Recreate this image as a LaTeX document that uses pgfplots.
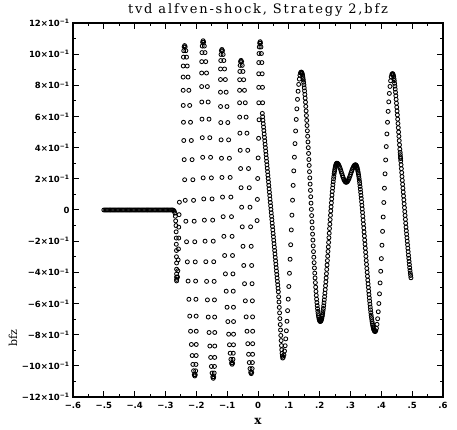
\documentclass[border=0pt]{standalone}
\usepackage{fontspec}
\setmainfont{DejaVu Serif}
\newfontfamily\tickfont{DejaVu Sans}
\newfontfamily\titlefont[LetterSpace=14]{DejaVu Serif}
\usepackage{pgfplots}
\pgfplotsset{compat=1.18}
\begin{document}
\begin{tikzpicture}[x=1pt,y=1pt]
\path[use as bounding box] (-73,-33) rectangle (384,397);
\begin{axis}[
  at={(0,0)}, anchor=south west,
  scale only axis, width=370pt, height=374pt,
  xmin=-0.6, xmax=0.6, ymin=-1.2, ymax=1.2,
  xtick={-0.6,-0.5,-0.4,-0.3,-0.2,-0.1,0,0.1,0.2,0.3,0.4,0.5,0.6},
  xticklabels={−.6,−.5,−.4,−.3,−.2,−.1,0,.1,.2,.3,.4,.5,.6},
  minor xtick={-0.55,-0.45,-0.35,-0.25,-0.15,-0.05,0.05,0.15,0.25,0.35,0.45,0.55},
  ytick={-1.2,-1.0,-0.8,-0.6,-0.4,-0.2,0,0.2,0.4,0.6,0.8,1.0,1.2},
  yticklabels={−12×10\textsuperscript{−1},−10×10\textsuperscript{−1},−8×10\textsuperscript{−1},−6×10\textsuperscript{−1},−4×10\textsuperscript{−1},−2×10\textsuperscript{−1},0,2×10\textsuperscript{−1},4×10\textsuperscript{−1},6×10\textsuperscript{−1},8×10\textsuperscript{−1},10×10\textsuperscript{−1},12×10\textsuperscript{−1}},
  minor ytick={-1.1,-0.9,-0.7,-0.5,-0.3,-0.1,0.1,0.3,0.5,0.7,0.9,1.1},
  tick align=inside, major tick length=6pt, minor tick length=3pt,
  axis line style={line width=1.2pt},
  every tick/.style={line width=1pt, black},
  tick label style={font=\tickfont\bfseries\fontsize{8.5}{10}\selectfont},
  xticklabel style={yshift=-1.5pt},
  scaled ticks=false,
]
% flat state left of the shock
\addplot[only marks, mark=o, mark size=2pt, mark options={line width=0.85pt, black}] coordinates {
(-0.500,0)(-0.496,0)(-0.492,0)(-0.488,0)(-0.484,0)(-0.480,0)(-0.476,0)(-0.472,0)(-0.468,0)(-0.464,0)
(-0.460,0)(-0.456,0)(-0.452,0)(-0.448,0)(-0.444,0)(-0.440,0)(-0.436,0)(-0.432,0)(-0.428,0)(-0.424,0)
(-0.420,0)(-0.416,0)(-0.412,0)(-0.408,0)(-0.404,0)(-0.400,0)(-0.396,0)(-0.392,0)(-0.388,0)(-0.384,0)
(-0.380,0)(-0.376,0)(-0.372,0)(-0.368,0)(-0.364,0)(-0.360,0)(-0.356,0)(-0.352,0)(-0.348,0)(-0.344,0)
(-0.340,0)(-0.336,0)(-0.332,0)(-0.328,0)(-0.324,0)(-0.320,0)(-0.316,0)(-0.312,0)(-0.308,0)(-0.304,0)
(-0.300,0)(-0.296,0)(-0.292,0)(-0.288,0)(-0.284,0)(-0.280,0)
(-0.277,0)(-0.274,-0.002)(-0.2715,-0.008)(-0.2695,-0.02)(-0.268,-0.04)(-0.267,-0.07)(-0.266,-0.10)
(-0.2655,-0.14)(-0.265,-0.18)(-0.265,-0.22)(-0.2645,-0.26)(-0.2645,-0.30)(-0.264,-0.34)(-0.264,-0.38)
(-0.264,-0.41)(-0.264,-0.43)(-0.264,-0.445)(-0.264,-0.455)
(-0.255,0.05)(-0.256,-0.03)(-0.257,-0.11)(-0.257,-0.18)(-0.258,-0.25)(-0.259,-0.32)(-0.260,-0.39)(-0.261,-0.43)
};
% oscillating region
\addplot[only marks, mark=o, mark size=2pt, mark options={line width=0.85pt, black}] coordinates {
(-0.2380,1.055)
(-0.2396,1.047)(-0.2362,1.047)(-0.2409,1.022)(-0.2341,1.022)(-0.2418,0.981)(-0.2318,0.981)
(-0.2425,0.924)(-0.2295,0.924)(-0.2427,0.853)(-0.2269,0.853)(-0.2427,0.768)(-0.2243,0.768)
(-0.2424,0.671)(-0.2216,0.671)(-0.2417,0.563)(-0.2189,0.563)(-0.2407,0.446)(-0.2163,0.446)
(-0.2394,0.323)(-0.2138,0.323)(-0.2379,0.194)(-0.2113,0.194)(-0.2360,0.062)(-0.2090,0.062)
(-0.2340,-0.072)(-0.2070,-0.072)(-0.2317,-0.204)(-0.2051,-0.204)(-0.2292,-0.333)(-0.2036,-0.333)
(-0.2267,-0.456)(-0.2023,-0.456)(-0.2241,-0.573)(-0.2013,-0.573)(-0.2214,-0.681)(-0.2006,-0.681)
(-0.2187,-0.778)(-0.2003,-0.778)(-0.2161,-0.863)(-0.2003,-0.863)(-0.2135,-0.934)(-0.2005,-0.934)
(-0.2112,-0.991)(-0.2012,-0.991)(-0.2089,-1.032)(-0.2021,-1.032)(-0.2068,-1.057)(-0.2034,-1.057)
(-0.2050,-1.065)
(-0.1780,1.086)
(-0.1796,1.077)(-0.1762,1.077)(-0.1809,1.052)(-0.1741,1.052)(-0.1818,1.010)(-0.1718,1.010)
(-0.1825,0.952)(-0.1695,0.952)(-0.1827,0.879)(-0.1669,0.879)(-0.1827,0.792)(-0.1643,0.792)
(-0.1824,0.693)(-0.1616,0.693)(-0.1817,0.583)(-0.1589,0.583)(-0.1807,0.464)(-0.1563,0.464)
(-0.1794,0.338)(-0.1538,0.338)(-0.1779,0.206)(-0.1513,0.206)(-0.1760,0.071)(-0.1490,0.071)
(-0.1740,-0.065)(-0.1470,-0.065)(-0.1717,-0.200)(-0.1451,-0.200)(-0.1692,-0.332)(-0.1436,-0.332)
(-0.1667,-0.458)(-0.1423,-0.458)(-0.1641,-0.577)(-0.1413,-0.577)(-0.1614,-0.687)(-0.1406,-0.687)
(-0.1587,-0.786)(-0.1403,-0.786)(-0.1561,-0.873)(-0.1403,-0.873)(-0.1535,-0.946)(-0.1405,-0.946)
(-0.1512,-1.004)(-0.1412,-1.004)(-0.1489,-1.046)(-0.1421,-1.046)(-0.1468,-1.071)(-0.1434,-1.071)
(-0.1450,-1.080)
(-0.1170,1.030)
(-0.1186,1.022)(-0.1152,1.022)(-0.1199,0.998)(-0.1131,0.998)(-0.1208,0.959)(-0.1108,0.959)
(-0.1215,0.905)(-0.1085,0.905)(-0.1217,0.837)(-0.1059,0.837)(-0.1217,0.756)(-0.1033,0.756)
(-0.1214,0.664)(-0.1006,0.664)(-0.1207,0.561)(-0.0979,0.561)(-0.1197,0.450)(-0.0953,0.450)
(-0.1184,0.332)(-0.0928,0.332)(-0.1169,0.209)(-0.0903,0.209)(-0.1150,0.083)(-0.0880,0.083)
(-0.1130,-0.043)(-0.0860,-0.043)(-0.1107,-0.169)(-0.0841,-0.169)(-0.1082,-0.292)(-0.0826,-0.292)
(-0.1057,-0.410)(-0.0813,-0.410)(-0.1031,-0.521)(-0.0803,-0.521)(-0.1004,-0.624)(-0.0796,-0.624)
(-0.0977,-0.716)(-0.0793,-0.716)(-0.0951,-0.797)(-0.0793,-0.797)(-0.0925,-0.865)(-0.0795,-0.865)
(-0.0902,-0.919)(-0.0802,-0.919)(-0.0879,-0.958)(-0.0811,-0.958)(-0.0858,-0.982)(-0.0824,-0.982)
(-0.0840,-0.990)
(-0.0550,0.960)
(-0.0566,0.952)(-0.0532,0.952)(-0.0579,0.928)(-0.0511,0.928)(-0.0588,0.889)(-0.0488,0.889)
(-0.0595,0.836)(-0.0465,0.836)(-0.0597,0.768)(-0.0439,0.768)(-0.0597,0.688)(-0.0413,0.688)
(-0.0594,0.596)(-0.0386,0.596)(-0.0587,0.493)(-0.0359,0.493)(-0.0577,0.383)(-0.0333,0.383)
(-0.0564,0.266)(-0.0308,0.266)(-0.0549,0.143)(-0.0283,0.143)(-0.0530,0.018)(-0.0260,0.018)
(-0.0510,-0.108)(-0.0240,-0.108)(-0.0487,-0.233)(-0.0221,-0.233)(-0.0462,-0.356)(-0.0206,-0.356)
(-0.0437,-0.473)(-0.0193,-0.473)(-0.0411,-0.583)(-0.0183,-0.583)(-0.0384,-0.686)(-0.0176,-0.686)
(-0.0357,-0.778)(-0.0173,-0.778)(-0.0331,-0.858)(-0.0173,-0.858)(-0.0305,-0.926)(-0.0175,-0.926)
(-0.0282,-0.979)(-0.0182,-0.979)(-0.0259,-1.018)(-0.0191,-1.018)(-0.0238,-1.042)(-0.0204,-1.042)
(-0.0220,-1.050)
(0.0070,1.080)
(0.0054,1.071)(0.0080,1.071)(0.0041,1.046)(0.0095,1.046)(0.0032,1.004)(0.0110,1.004)
(0.0025,0.946)(0.0125,0.946)(0.0023,0.874)(0.0135,0.874)(0.0023,0.787)(0.0145,0.787)
(0.0026,0.688)(0.0150,0.688)(0.0033,0.579)
(0.0020,0.460)(0.0005,0.334)(-0.0010,0.202)(-0.0020,0.068)(-0.0030,-0.068)
};
% smooth region right of x=0
\addplot[only marks, mark=o, mark size=2pt, mark options={line width=0.85pt, black}] coordinates {
(0.014,0.620)(0.016,0.576)(0.018,0.532)(0.020,0.488)(0.022,0.444)(0.024,0.400)(0.026,0.356)
(0.028,0.312)(0.030,0.268)(0.032,0.224)(0.034,0.180)(0.036,0.136)(0.038,0.092)(0.040,0.048)
(0.042,0.004)(0.044,-0.040)(0.046,-0.084)(0.048,-0.128)(0.050,-0.172)(0.052,-0.216)(0.054,-0.260)
(0.056,-0.304)(0.058,-0.348)(0.060,-0.392)(0.062,-0.436)(0.064,-0.480)(0.066,-0.525)(0.068,-0.590)
(0.070,-0.660)(0.072,-0.735)(0.074,-0.805)(0.076,-0.870)(0.078,-0.920)(0.080,-0.950)
(0.082,-0.945)(0.084,-0.930)(0.086,-0.905)(0.088,-0.871)(0.090,-0.827)(0.092,-0.775)(0.094,-0.714)
(0.096,-0.646)(0.098,-0.572)(0.100,-0.491)(0.102,-0.406)(0.104,-0.316)(0.106,-0.223)(0.108,-0.128)
(0.110,-0.033)(0.112,0.063)(0.114,0.158)(0.116,0.251)(0.118,0.339)(0.120,0.426)(0.122,0.507)
(0.124,0.581)(0.126,0.649)(0.128,0.710)(0.130,0.762)(0.132,0.806)(0.134,0.840)(0.136,0.865)
(0.138,0.880)(0.140,0.885)
(0.142,0.881)(0.144,0.869)(0.146,0.848)(0.148,0.820)(0.150,0.784)(0.152,0.742)(0.154,0.692)
(0.156,0.636)(0.158,0.575)(0.160,0.508)(0.162,0.437)(0.164,0.363)(0.166,0.286)(0.168,0.206)
(0.170,0.126)(0.172,0.044)(0.174,-0.036)(0.176,-0.116)(0.178,-0.193)(0.180,-0.267)(0.182,-0.338)
(0.184,-0.405)(0.186,-0.466)(0.188,-0.522)(0.190,-0.572)(0.192,-0.614)(0.194,-0.650)(0.196,-0.678)
(0.198,-0.699)(0.200,-0.711)(0.202,-0.715)
(0.204,-0.712)(0.206,-0.701)(0.208,-0.684)(0.210,-0.661)(0.212,-0.632)(0.214,-0.596)(0.216,-0.556)
(0.218,-0.511)(0.220,-0.461)(0.222,-0.409)(0.224,-0.353)(0.226,-0.296)(0.228,-0.237)(0.230,-0.178)
(0.232,-0.119)(0.234,-0.062)(0.236,-0.006)(0.238,0.046)(0.240,0.096)(0.242,0.141)(0.244,0.181)
(0.246,0.216)(0.248,0.246)(0.250,0.269)(0.252,0.286)(0.254,0.297)(0.256,0.300)
(0.258,0.299)(0.260,0.295)(0.262,0.288)(0.264,0.280)(0.266,0.270)(0.268,0.258)(0.270,0.245)
(0.272,0.233)(0.274,0.220)(0.276,0.209)(0.278,0.198)(0.280,0.190)(0.282,0.183)(0.284,0.179)
(0.286,0.178)
(0.288,0.179)(0.290,0.183)(0.292,0.189)(0.294,0.197)(0.296,0.206)(0.298,0.217)(0.300,0.228)
(0.302,0.240)(0.304,0.251)(0.306,0.262)(0.308,0.271)(0.310,0.279)(0.312,0.285)(0.314,0.289)
(0.316,0.290)
(0.318,0.287)(0.320,0.280)(0.322,0.267)(0.324,0.249)(0.326,0.227)(0.328,0.200)(0.330,0.169)
(0.332,0.133)(0.334,0.094)(0.336,0.052)(0.338,0.007)(0.340,-0.040)(0.342,-0.090)(0.344,-0.141)
(0.346,-0.193)(0.348,-0.245)(0.350,-0.297)(0.352,-0.349)(0.354,-0.400)(0.356,-0.450)(0.358,-0.497)
(0.360,-0.542)(0.362,-0.584)(0.364,-0.623)(0.366,-0.659)(0.368,-0.690)(0.370,-0.717)(0.372,-0.739)
(0.374,-0.757)(0.376,-0.770)(0.378,-0.777)(0.380,-0.780)
(0.382,-0.775)(0.384,-0.759)(0.386,-0.734)(0.388,-0.698)(0.390,-0.653)(0.392,-0.600)(0.394,-0.538)
(0.396,-0.468)(0.398,-0.393)(0.400,-0.312)(0.402,-0.226)(0.404,-0.137)(0.406,-0.045)(0.408,0.048)
(0.410,0.140)(0.412,0.232)(0.414,0.321)(0.416,0.407)(0.418,0.488)(0.420,0.563)(0.422,0.633)
(0.424,0.694)(0.426,0.748)(0.428,0.793)(0.430,0.829)(0.432,0.854)(0.434,0.870)(0.436,0.875)
(0.438,0.870)(0.440,0.855)(0.442,0.830)(0.444,0.795)(0.446,0.755)(0.448,0.710)(0.450,0.660)
(0.452,0.610)(0.454,0.555)(0.456,0.500)(0.458,0.445)(0.460,0.390)(0.461,0.370)(0.4615,0.355)
(0.462,0.340)(0.4625,0.330)(0.463,0.315)(0.464,0.290)(0.465,0.265)(0.466,0.240)(0.468,0.190)
(0.470,0.140)(0.472,0.090)(0.474,0.040)(0.476,-0.010)(0.478,-0.060)(0.480,-0.110)(0.482,-0.155)
(0.484,-0.200)(0.486,-0.245)(0.488,-0.290)(0.490,-0.330)(0.492,-0.370)(0.494,-0.405)(0.496,-0.435)
};
% finer-spaced points on the descending/rising branches
\addplot[only marks, mark=o, mark size=2pt, mark options={line width=0.85pt, black}] coordinates {
(0.015,0.598)(0.017,0.554)(0.019,0.510)(0.021,0.466)(0.023,0.422)(0.025,0.378)(0.027,0.334)
(0.029,0.290)(0.031,0.246)(0.033,0.202)(0.035,0.158)(0.037,0.114)(0.039,0.070)(0.041,0.026)
(0.043,-0.018)(0.045,-0.062)(0.047,-0.106)(0.049,-0.150)(0.051,-0.194)(0.053,-0.238)(0.055,-0.282)
(0.057,-0.326)(0.059,-0.370)(0.061,-0.414)(0.063,-0.458)(0.065,-0.502)(0.067,-0.557)(0.069,-0.625)
(0.071,-0.697)(0.073,-0.770)(0.075,-0.838)(0.077,-0.897)(0.079,-0.937)
(0.141,0.884)(0.143,0.876)(0.145,0.859)(0.147,0.835)(0.149,0.803)(0.151,0.764)(0.153,0.718)
(0.155,0.665)(0.157,0.606)(0.159,0.542)(0.161,0.473)(0.163,0.400)(0.165,0.324)(0.167,0.246)
(0.169,0.166)(0.171,0.085)(0.173,0.004)(0.175,-0.076)(0.177,-0.155)(0.179,-0.230)(0.181,-0.303)
(0.183,-0.372)(0.185,-0.436)(0.187,-0.495)(0.189,-0.548)(0.191,-0.594)(0.193,-0.633)(0.195,-0.665)
(0.197,-0.689)(0.199,-0.706)(0.201,-0.714)
(0.203,-0.714)(0.205,-0.707)(0.207,-0.694)(0.209,-0.674)(0.211,-0.647)(0.213,-0.615)(0.215,-0.577)
(0.217,-0.534)(0.219,-0.486)(0.221,-0.436)(0.223,-0.381)(0.225,-0.325)(0.227,-0.266)(0.229,-0.208)
(0.231,-0.149)(0.233,-0.091)(0.235,-0.034)(0.237,0.020)(0.239,0.071)(0.241,0.119)(0.243,0.162)
(0.245,0.200)(0.247,0.232)(0.249,0.259)(0.251,0.279)(0.253,0.292)(0.255,0.299)
(0.317,0.289)(0.319,0.284)(0.321,0.274)(0.323,0.259)(0.325,0.239)(0.327,0.214)(0.329,0.185)
(0.331,0.151)(0.333,0.114)(0.335,0.074)(0.337,0.030)(0.339,-0.016)(0.341,-0.065)(0.343,-0.115)
(0.345,-0.167)(0.347,-0.219)(0.349,-0.271)(0.351,-0.324)(0.353,-0.375)(0.355,-0.425)(0.357,-0.474)
(0.359,-0.520)(0.361,-0.564)(0.363,-0.604)(0.365,-0.641)(0.367,-0.675)(0.369,-0.704)(0.371,-0.729)
(0.373,-0.749)(0.375,-0.764)(0.377,-0.774)(0.379,-0.779)
(0.437,0.874)(0.439,0.863)(0.441,0.843)(0.443,0.813)(0.445,0.776)(0.447,0.733)(0.449,0.685)
(0.451,0.635)(0.453,0.583)(0.455,0.528)(0.457,0.473)(0.459,0.418)(0.467,0.215)(0.469,0.165)
(0.471,0.115)(0.473,0.065)(0.475,0.015)(0.477,-0.035)(0.479,-0.085)(0.481,-0.133)(0.483,-0.178)
(0.485,-0.223)(0.487,-0.268)(0.489,-0.310)(0.491,-0.350)(0.493,-0.388)(0.495,-0.420)
};
\end{axis}
\node[font=\titlefont\fontsize{13}{15}\selectfont] at (185,387) {tvd alfven-shock, Strategy 2,bfz};
\node[font=\bfseries\fontsize{12}{14}\selectfont] at (185,-24) {x};
\node[font=\fontsize{11}{13}\selectfont, rotate=90] at (-60,59) {bfz};
\end{tikzpicture}
\end{document}
